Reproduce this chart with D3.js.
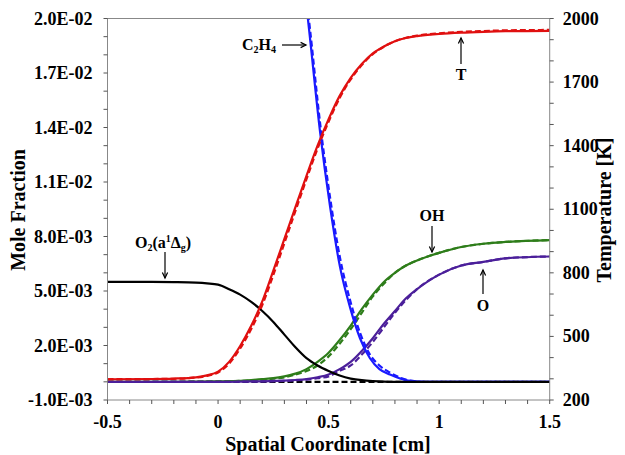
<!DOCTYPE html><html><head><meta charset="utf-8">
<script src="https://cdn.jsdelivr.net/npm/d3@7"></script>
<style>body{margin:0;background:#fff}text{font-family:"Liberation Serif",serif;font-weight:bold}</style></head><body>
<svg id="c" width="625" height="455"></svg>
<script>
const xs = [-0.5,-0.3,-0.2,-0.1,-0.05,0,0.05,0.1,0.15,0.2,0.25,0.3,0.35,0.4,0.45,0.5,0.55,0.6,0.65,0.7,0.75,0.8,0.85,0.9,1.0,1.1,1.2,1.3,1.5];
const tempSolid = [298,299,301,307,316,334,380,455,550,665,810,960,1110,1258,1400,1525,1635,1720,1785,1835,1868,1893,1908,1917,1927,1933,1937,1940,1942];
const tempDash  = [298,299,300,306,314,330,372,443,535,648,790,940,1092,1242,1386,1513,1625,1713,1780,1832,1867,1893,1909,1919,1930,1937,1941,1944,1946];
const o2Solid   = [0.0055,0.0055,0.00549,0.00546,0.00542,0.00535,0.0051,0.0048,0.0044,0.0039,0.0033,0.0026,0.0019,0.0013,0.0009,0.0006,0.00035,0.00018,0.00009,0.00004,0.00001,0,0,0,0,0,0,0,0];
const o2Dash    = [0,0,0,0,0,0,0,0,0,0,0,0,0,0,0,0,0,0,0,0,0,0,0,0,0,0,0,0,0];
const ohSolid   = [0,0,0,0.00001,0.00002,0.00003,0.00004,0.00006,0.0001,0.00015,0.0002,0.0003,0.00045,0.0007,0.0011,0.0016,0.0023,0.0031,0.004,0.0048,0.0055,0.006,0.0064,0.00668,0.0071,0.00742,0.0076,0.0077,0.0078];
const ohDash    = [0,0,0,0.00001,0.00001,0.00002,0.00003,0.00005,0.00008,0.00012,0.00017,0.00025,0.0004,0.0006,0.0009,0.0014,0.0021,0.0029,0.0038,0.0047,0.0054,0.006,0.0064,0.00668,0.0071,0.00742,0.0076,0.0077,0.0078];
const oSolid    = [0,0,0,0,0,0,0,0.00001,0.00002,0.00003,0.00005,0.00007,0.0001,0.00015,0.00025,0.0004,0.0007,0.0011,0.0017,0.0024,0.0032,0.0039,0.0046,0.0051,0.0059,0.0064,0.0066,0.0068,0.0069];
const oDash     = [0,0,0,0,0,0,0,0.00001,0.00001,0.00002,0.00003,0.00005,0.00008,0.00012,0.0002,0.0003,0.0006,0.0009,0.0015,0.0022,0.003,0.0038,0.0045,0.0051,0.0059,0.0064,0.0066,0.0068,0.0069];
const c2x = [0.38,0.40,0.416,0.461,0.506,0.552,0.597,0.642,0.687,0.73,0.778,0.82,0.868,0.95,1.5];
const c2Solid = [0.0229,0.0207,0.0189,0.0138,0.0097,0.0063,0.0041,0.0024,0.0013,0.0007,0.0004,0.0002,0.00005,0,0];
const c2Dash  = [0.0232,0.0211,0.0194,0.0143,0.0102,0.0068,0.0045,0.0027,0.0015,0.0009,0.0005,0.00025,0.00007,0,0];
const leftTicks = [-0.001,0.002,0.005,0.008,0.011,0.014,0.017,0.02];
const leftLabels = ["-1.0E-03","2.0E-03","5.0E-03","8.0E-03","1.1E-02","1.4E-02","1.7E-02","2.0E-02"];
const rightTicks = [200,500,800,1100,1400,1700,2000];
const xTicks = [-0.5,0,0.5,1,1.5];

const svg=d3.select("#c");
const L=107.5,R=549.7,T=18.5,B=400;
const x=d3.scaleLinear().domain([-0.5,1.5]).range([L,R]);
const y=d3.scaleLinear().domain([-0.001,0.02]).range([B,T]);
const y2=d3.scaleLinear().domain([200,2000]).range([B,T]);
const defs=svg.append("defs");
defs.append("clipPath").attr("id","cp").append("rect").attr("x",L).attr("y",T).attr("width",R-L).attr("height",B-T);
const g=svg.append("g").attr("clip-path","url(#cp)");
function draw(xv,yv,sc,col,dash){
  const line=d3.line().x((d,i)=>x(xv[i])).y(d=>sc(d)).curve(d3.curveMonotoneX);
  g.append("path").attr("d",line(yv)).attr("fill","none").attr("stroke",col).attr("stroke-width",2.2).attr("stroke-dasharray",dash?"6,3":null);
}
draw(xs,o2Dash,y,"#000",true);
draw(xs,ohDash,y,"#2e7d1a",true);draw(xs,ohSolid,y,"#2e7d1a",false);
draw(xs,oDash,y,"#4b1f9a",true);draw(xs,oSolid,y,"#4b1f9a",false);
draw(c2x,c2Dash,y,"#1a1aff",true);draw(c2x,c2Solid,y,"#1a1aff",false);
draw(xs,o2Solid,y,"#000",false);
draw(xs,tempDash,y2,"#e01010",true);draw(xs,tempSolid,y2,"#e01010",false);

svg.append("rect").attr("x",L).attr("y",T).attr("width",R-L).attr("height",B-T).attr("fill","none").attr("stroke","#888").attr("stroke-width",1);
const ax=svg.append("g").attr("stroke","#555").attr("stroke-width",1);
d3.range(-0.001,0.02001,0.001).forEach(v=>ax.append("line").attr("x1",L-4).attr("x2",L).attr("y1",y(v)).attr("y2",y(v)));
d3.range(200,2001,100).forEach(v=>ax.append("line").attr("x1",R).attr("x2",R+4).attr("y1",y2(v)).attr("y2",y2(v)));
d3.range(-0.5,1.501,0.1).forEach(v=>ax.append("line").attr("x1",x(v)).attr("x2",x(v)).attr("y1",B).attr("y2",B+4));
leftTicks.forEach((v,i)=>svg.append("text").attr("x",L-15).attr("y",y(v)+6).attr("text-anchor","end").attr("font-size",18).text(leftLabels[i]));
rightTicks.forEach(v=>svg.append("text").attr("x",R+13).attr("y",y2(v)+6).attr("font-size",18).text(v));
xTicks.forEach(v=>svg.append("text").attr("x",x(v)).attr("y",B+28).attr("text-anchor","middle").attr("font-size",18).text(v));
svg.append("text").attr("x",328).attr("y",451).attr("text-anchor","middle").attr("font-size",20).text("Spatial Coordinate [cm]");
svg.append("text").attr("transform","translate(25,210) rotate(-90)").attr("text-anchor","middle").attr("font-size",20).text("Mole Fraction");
svg.append("text").attr("transform","translate(611,210) rotate(-90)").attr("text-anchor","middle").attr("font-size",20).text("Temperature [K]");

function arrow(x1,y1,x2,y2){
  svg.append("line").attr("x1",x1).attr("y1",y1).attr("x2",x2).attr("y2",y2).attr("stroke","#000").attr("stroke-width",1.2);
  const a=Math.atan2(y2-y1,x2-x1),s=6;
  svg.append("path").attr("d",`M${x2-s*Math.cos(a-0.45)},${y2-s*Math.sin(a-0.45)}L${x2},${y2}L${x2-s*Math.cos(a+0.45)},${y2-s*Math.sin(a+0.45)}`).attr("fill","none").attr("stroke","#000").attr("stroke-width",1.2);
}
const t1=svg.append("text").attr("x",242).attr("y",50).attr("font-size",16);
t1.append("tspan").text("C");t1.append("tspan").attr("font-size",10).attr("dy",3).text("2");
t1.append("tspan").attr("dy",-3).text("H");t1.append("tspan").attr("font-size",10).attr("dy",3).text("4");
arrow(282,45,306,45);
const t2=svg.append("text").attr("x",135).attr("y",248).attr("font-size",16);
t2.append("tspan").text("O");t2.append("tspan").attr("font-size",10).attr("dy",3).text("2");
t2.append("tspan").attr("dy",-3).text("(a");t2.append("tspan").attr("font-size",10).attr("dy",-6).text("1");
t2.append("tspan").attr("dy",6).text("Δ");t2.append("tspan").attr("font-size",10).attr("dy",3).text("g");
t2.append("tspan").attr("dy",-3).text(")");
arrow(165,252,165,278);
svg.append("text").attr("x",432).attr("y",221).attr("text-anchor","middle").attr("font-size",16).text("OH");
arrow(432,226,432,252);
svg.append("text").attr("x",483).attr("y",311).attr("text-anchor","middle").attr("font-size",16).text("O");
arrow(483,294,483,270);
svg.append("text").attr("x",461).attr("y",80).attr("text-anchor","middle").attr("font-size",16).text("T");
arrow(461,64,461,38);
</script></body></html>
